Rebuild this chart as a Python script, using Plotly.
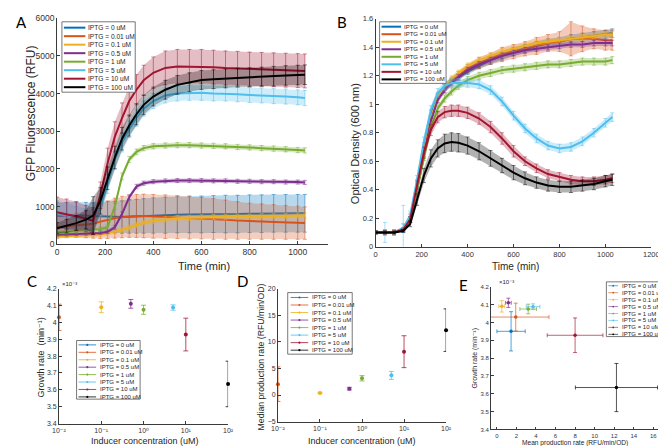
import plotly.graph_objects as go

W, H = 666, 446
FONT = "Liberation Sans, Arial, DejaVu Sans, sans-serif"

# ---------------- data ----------------
conc_labels = ["0", "0.01", "0.1", "0.5", "1", "5", "10", "100"]
conc = [0, 0.01, 0.1, 0.5, 1, 5, 10, 100]
colors = ["#0072BD", "#D95319", "#EDB120", "#7E2F8E", "#77AC30", "#4DBEEE", "#A2142F", "#000000"]
series_names = ["IPTG = %s uM" % c for c in conc_labels]

time_min = [0, 40, 80, 120, 150, 180, 210, 240, 270, 300, 330, 360, 400, 450, 500,
            550, 600, 650, 700, 750, 800, 850, 900, 950, 1000, 1030]

# Panel A: GFP fluorescence (RFU), mean and error
gfp_0 = [750, 760, 770, 760, 750, 740, 730, 720, 720, 730, 740, 750, 760, 770, 780, 790, 790, 800, 800, 800, 810, 810, 820, 820, 820, 820]
gfp_0_err = [350, 350, 350, 350, 350, 380, 400, 420, 430, 440, 450, 460, 470, 480, 480, 490, 490, 490, 500, 500, 500, 500, 500, 500, 500, 500]
gfp_001 = [450, 480, 500, 520, 540, 600, 650, 690, 720, 740, 750, 750, 740, 730, 720, 700, 690, 670, 650, 630, 610, 600, 590, 580, 570, 560]
gfp_001_err = [300, 300, 320, 350, 380, 450, 500, 530, 550, 560, 570, 580, 580, 580, 570, 560, 550, 540, 520, 500, 480, 470, 460, 450, 440, 430]
gfp_01 = [200, 210, 220, 230, 240, 260, 290, 330, 380, 440, 510, 570, 620, 660, 690, 700, 710, 720, 720, 730, 730, 740, 740, 750, 760, 760]
gfp_01_err = [40, 40, 40, 50, 50, 50, 60, 60, 60, 70, 70, 70, 70, 70, 70, 70, 70, 70, 70, 70, 70, 70, 70, 70, 70, 70]
gfp_05 = [250, 260, 270, 280, 290, 300, 330, 450, 800, 1250, 1530, 1620, 1660, 1680, 1690, 1690, 1690, 1680, 1680, 1670, 1670, 1660, 1660, 1650, 1650, 1640]
gfp_05_err = [40, 40, 40, 40, 40, 40, 50, 50, 60, 60, 60, 55, 55, 55, 55, 55, 55, 55, 55, 55, 55, 55, 55, 55, 55, 55]
gfp_1 = [300, 320, 340, 360, 380, 400, 450, 1000, 1800, 2250, 2450, 2550, 2600, 2620, 2630, 2630, 2620, 2610, 2600, 2580, 2570, 2550, 2540, 2520, 2500, 2490]
gfp_1_err = [50, 50, 50, 50, 50, 50, 60, 80, 90, 80, 75, 70, 70, 70, 70, 70, 70, 70, 70, 70, 70, 70, 70, 70, 70, 70]
gfp_5 = [800, 750, 700, 650, 650, 1000, 1600, 2250, 2700, 3050, 3350, 3600, 3800, 3950, 4000, 4020, 4020, 4000, 4000, 3980, 3960, 3950, 3930, 3920, 3900, 3880]
gfp_5_err = [350, 350, 300, 300, 300, 250, 250, 250, 250, 220, 220, 200, 200, 200, 200, 200, 200, 200, 200, 200, 200, 200, 200, 200, 200, 200]
gfp_10 = [850, 800, 750, 680, 620, 1300, 2150, 2850, 3350, 3800, 4100, 4350, 4550, 4680, 4720, 4720, 4720, 4700, 4680, 4670, 4650, 4640, 4630, 4620, 4610, 4600]
gfp_10_err = [400, 400, 380, 350, 350, 350, 400, 400, 400, 400, 400, 400, 420, 450, 450, 450, 450, 450, 450, 450, 450, 450, 450, 450, 450, 450]
gfp_100 = [420, 480, 560, 650, 760, 1150, 1750, 2300, 2800, 3150, 3450, 3700, 3920, 4100, 4230, 4300, 4360, 4380, 4400, 4420, 4430, 4450, 4460, 4480, 4490, 4500]
gfp_100_err = [150, 180, 200, 250, 500, 350, 300, 300, 300, 280, 280, 260, 250, 250, 250, 250, 250, 250, 250, 250, 250, 250, 260, 260, 260, 260]

# Panel B: optical density (600 nm), mean and error
od_0 = [0.1, 0.1, 0.1, 0.13, 0.2, 0.44, 0.7, 0.93, 1.06, 1.12, 1.16, 1.19, 1.23, 1.27, 1.31, 1.34, 1.37, 1.39, 1.41, 1.43, 1.44, 1.46, 1.47, 1.48, 1.49, 1.5]
od_0_err = [0.01, 0.02, 0.02, 0.03, 0.03, 0.03, 0.03, 0.03, 0.02, 0.02, 0.02, 0.02, 0.02, 0.02, 0.03, 0.03, 0.03, 0.03, 0.03, 0.03, 0.03, 0.03, 0.03, 0.03, 0.03, 0.03]
od_001 = [0.1, 0.1, 0.1, 0.12, 0.19, 0.41, 0.66, 0.89, 1.04, 1.11, 1.16, 1.2, 1.25, 1.29, 1.32, 1.35, 1.37, 1.39, 1.41, 1.43, 1.44, 1.46, 1.46, 1.46, 1.45, 1.45]
od_001_err = [0.01, 0.01, 0.01, 0.01, 0.02, 0.03, 0.03, 0.03, 0.03, 0.03, 0.03, 0.03, 0.03, 0.04, 0.04, 0.05, 0.05, 0.05, 0.06, 0.06, 0.07, 0.12, 0.09, 0.07, 0.07, 0.07]
od_01 = [0.1, 0.1, 0.1, 0.12, 0.19, 0.41, 0.67, 0.9, 1.05, 1.13, 1.18, 1.22, 1.27, 1.31, 1.34, 1.37, 1.39, 1.41, 1.43, 1.44, 1.45, 1.46, 1.47, 1.48, 1.49, 1.49]
od_01_err = [0.01, 0.01, 0.01, 0.01, 0.02, 0.02, 0.02, 0.02, 0.02, 0.02, 0.02, 0.02, 0.02, 0.02, 0.02, 0.02, 0.02, 0.02, 0.02, 0.02, 0.02, 0.02, 0.02, 0.02, 0.02, 0.02]
od_05 = [0.1, 0.1, 0.1, 0.12, 0.19, 0.4, 0.65, 0.88, 1.03, 1.1, 1.15, 1.19, 1.24, 1.28, 1.31, 1.34, 1.36, 1.38, 1.39, 1.4, 1.41, 1.42, 1.42, 1.43, 1.43, 1.43]
od_05_err = [0.01, 0.01, 0.01, 0.01, 0.02, 0.02, 0.02, 0.02, 0.02, 0.02, 0.02, 0.02, 0.02, 0.02, 0.02, 0.02, 0.02, 0.02, 0.02, 0.02, 0.02, 0.02, 0.02, 0.02, 0.02, 0.02]
od_1 = [0.1, 0.1, 0.1, 0.12, 0.19, 0.4, 0.63, 0.84, 0.97, 1.04, 1.09, 1.13, 1.17, 1.2, 1.22, 1.24, 1.25, 1.26, 1.27, 1.28, 1.28, 1.29, 1.3, 1.3, 1.3, 1.31]
od_1_err = [0.01, 0.01, 0.01, 0.01, 0.02, 0.02, 0.025, 0.025, 0.025, 0.025, 0.025, 0.025, 0.025, 0.025, 0.025, 0.025, 0.025, 0.025, 0.025, 0.025, 0.025, 0.025, 0.025, 0.025, 0.025, 0.025]
od_5 = [0.1, 0.1, 0.1, 0.13, 0.22, 0.47, 0.74, 0.96, 1.08, 1.13, 1.15, 1.15, 1.15, 1.14, 1.1, 1.02, 0.92, 0.83, 0.76, 0.71, 0.69, 0.7, 0.74, 0.8, 0.87, 0.91]
od_5_err = [0.01, 0.07, 0.02, 0.16, 0.03, 0.03, 0.03, 0.03, 0.03, 0.03, 0.03, 0.03, 0.03, 0.03, 0.03, 0.03, 0.03, 0.03, 0.03, 0.03, 0.03, 0.03, 0.03, 0.03, 0.03, 0.03]
od_10 = [0.1, 0.1, 0.1, 0.12, 0.19, 0.43, 0.66, 0.82, 0.91, 0.945, 0.955, 0.955, 0.94, 0.9, 0.84, 0.76, 0.67, 0.6, 0.55, 0.51, 0.49, 0.47, 0.46, 0.46, 0.47, 0.48]
od_10_err = [0.01, 0.01, 0.01, 0.01, 0.02, 0.03, 0.04, 0.04, 0.04, 0.04, 0.04, 0.04, 0.04, 0.04, 0.04, 0.04, 0.04, 0.03, 0.03, 0.03, 0.03, 0.03, 0.03, 0.03, 0.03, 0.03]
od_100 = [0.1, 0.1, 0.1, 0.11, 0.16, 0.33, 0.5, 0.62, 0.69, 0.725, 0.735, 0.73, 0.71, 0.67, 0.62, 0.57, 0.52, 0.48, 0.45, 0.43, 0.42, 0.42, 0.43, 0.44, 0.46, 0.47]
od_100_err = [0.01, 0.01, 0.01, 0.01, 0.02, 0.04, 0.05, 0.06, 0.06, 0.065, 0.065, 0.065, 0.06, 0.06, 0.055, 0.05, 0.05, 0.045, 0.04, 0.04, 0.04, 0.04, 0.04, 0.04, 0.04, 0.04]

# Panels C-E: growth rate (x1e-3 min^-1) and production rates (RFU/min/OD)
growth = [3.95, 4.03, 4.09, 4.11, 4.075, 4.088, 3.928, 3.635]
growth_err = [0.11, 0.078, 0.032, 0.026, 0.027, 0.016, 0.097, 0.135]
prod_median = [None, 2.05, 0.4, 1.2, 3.15, 3.7, 8.15, 12.2]
prod_median_err = [None, 3.25, 0.12, 0.25, 0.5, 0.75, 3.0, 4.0]
prod_mean = [1.45, 1.93, 0.5, 1.17, 3.2, 3.7, 8.0, 12.23]
prod_mean_err = [1.45, 3.4, 0.3, 0.3, 0.85, 0.7, 2.85, 4.2]

log_tick_vals = [0.01, 0.1, 1, 10, 100]
log_tick_text = ["10\u207b\u00b2", "10\u207b\u00b9", "10\u2070", "10\u00b9", "10\u00b2"]

gfp_means = [gfp_0, gfp_001, gfp_01, gfp_05, gfp_1, gfp_5, gfp_10, gfp_100]
gfp_errs = [gfp_0_err, gfp_001_err, gfp_01_err, gfp_05_err, gfp_1_err, gfp_5_err, gfp_10_err, gfp_100_err]
od_means = [od_0, od_001, od_01, od_05, od_1, od_5, od_10, od_100]
od_errs = [od_0_err, od_001_err, od_01_err, od_05_err, od_1_err, od_5_err, od_10_err, od_100_err]

# ---------------- helpers ----------------
def px(p):
    return p / W

def py(p):
    return 1 - p / H

def rgba(hexc, a):
    h = hexc.lstrip("#")
    return "rgba(%d,%d,%d,%.2f)" % (int(h[0:2], 16), int(h[2:4], 16), int(h[4:6], 16), a)

fig = go.Figure()

def add_timeseries(means, errs, xa, ya, band_a, lw, band_from):
    for m, e, c in zip(means, errs, colors):
        tt = time_min[band_from:]
        up = [a + b for a, b in zip(m[band_from:], e[band_from:])]
        lo = [a - b for a, b in zip(m[band_from:], e[band_from:])]
        fig.add_trace(go.Scatter(x=tt + tt[::-1], y=up + lo[::-1], fill="toself",
                                 fillcolor=rgba(c, band_a), line=dict(width=0), mode="lines",
                                 hoverinfo="skip", showlegend=False, xaxis=xa, yaxis=ya))
        fig.add_trace(go.Scatter(x=time_min, y=m, mode="lines", line=dict(color=c, width=lw),
                                 error_y=dict(type="data", array=e, color=rgba(c, 0.7), thickness=0.7, width=2),
                                 showlegend=False, xaxis=xa, yaxis=ya))

add_timeseries(gfp_means, gfp_errs, "x", "y", 0.28, 2, 0)
add_timeseries(od_means, od_errs, "x2", "y2", 0.3, 2, 4)

# C: growth vs concentration
for i in range(len(conc)):
    if conc[i] > 0:
        fig.add_trace(go.Scatter(x=[conc[i]], y=[growth[i]], mode="markers", cliponaxis=False,
                                 marker=dict(color=colors[i], size=4),
                                 error_y=dict(type="data", array=[growth_err[i]], color=rgba(colors[i], 0.75), thickness=1, width=2.5),
                                 showlegend=False, xaxis="x3", yaxis="y3"))
# D: median production vs concentration
for i in range(len(conc)):
    if conc[i] > 0 and prod_median[i] is not None:
        fig.add_trace(go.Scatter(x=[conc[i]], y=[prod_median[i]], mode="markers", cliponaxis=False,
                                 marker=dict(color=colors[i], size=4),
                                 error_y=dict(type="data", array=[prod_median_err[i]], color=rgba(colors[i], 0.75), thickness=1, width=2.5),
                                 showlegend=False, xaxis="x4", yaxis="y4"))
# E: growth vs mean production
for i in range(len(conc)):
    fig.add_trace(go.Scatter(x=[prod_mean[i]], y=[growth[i]], mode="markers", cliponaxis=False,
                             marker=dict(color=colors[i], size=3.5),
                             error_x=dict(type="data", array=[prod_mean_err[i]], color=rgba(colors[i], 0.75), thickness=0.9, width=2),
                             error_y=dict(type="data", array=[growth_err[i]], color=rgba(colors[i], 0.75), thickness=0.9, width=2),
                             showlegend=False, xaxis="x5", yaxis="y5"))

# ---------------- axes ----------------
AXC = "#3a3a3a"

def ax(size, **kw):
    d = dict(showline=True, linecolor=AXC, linewidth=0.8, ticks="inside", ticklen=3, tickwidth=0.8,
             tickcolor=AXC, showgrid=False, zeroline=False, mirror=False,
             tickfont=dict(size=size, color="#333333", family=FONT))
    d.update(kw)
    return d

fig.update_layout(
    xaxis=ax(8.5, domain=[px(43), px(320)], range=[0, 1125], tickvals=[0, 200, 400, 600, 800, 1000], anchor="y"),
    yaxis=ax(8.5, domain=[py(236.5), py(5.3)], range=[0, 6000], dtick=1000, anchor="x"),
    xaxis2=ax(7.5, domain=[px(369), px(651)], range=[0, 1200], dtick=200, anchor="y2"),
    yaxis2=ax(7.5, domain=[py(239), py(6)], range=[0, 1.6], dtick=0.2, anchor="x2"),
    xaxis3=ax(7, type="log", domain=[px(45), px(218)], range=[-2, 2], tickvals=log_tick_vals, ticktext=log_tick_text, anchor="y3"),
    yaxis3=ax(7, domain=[py(420), py(282)], range=[3.4, 4.2], dtick=0.1, anchor="x3"),
    xaxis4=ax(7, type="log", domain=[px(269), px(441)], range=[-2, 2], tickvals=log_tick_vals, ticktext=log_tick_text, anchor="y4"),
    yaxis4=ax(7, domain=[py(418), py(282)], range=[-5, 20], dtick=5, anchor="x4"),
    xaxis5=ax(6, domain=[px(487), px(658)], range=[-0.6, 16.5], dtick=2, anchor="y5"),
    yaxis5=ax(6, domain=[py(426), py(280)], range=[3.4, 4.2], dtick=0.1, anchor="x5"),
)

shapes = []
annotations = []

def text(t, x, y, size, angle=0, xanchor="center", yanchor="middle", family=FONT, color="#262626"):
    annotations.append(dict(text=t, x=px(x), y=py(y), xref="paper", yref="paper", showarrow=False,
                            textangle=angle, xanchor=xanchor, yanchor=yanchor,
                            font=dict(size=size, family=family, color=color)))

def legend(box, first_y, step, sx0, sx1, tx, fsize, marker, lw, msize):
    x0, y0, x1, y1 = box
    shapes.append(dict(type="rect", xref="paper", yref="paper", x0=px(x0), x1=px(x1), y0=py(y1), y1=py(y0),
                       line=dict(color="#555555", width=0.8), fillcolor="white", layer="above"))
    for i, (lab, c) in enumerate(zip(series_names, colors)):
        yy = first_y + i * step
        shapes.append(dict(type="line", xref="paper", yref="paper", x0=px(sx0), x1=px(sx1), y0=py(yy), y1=py(yy),
                           line=dict(color=c, width=lw), layer="above"))
        if marker:
            cx = (sx0 + sx1) / 2
            shapes.append(dict(type="circle", xref="paper", yref="paper", x0=px(cx - msize), x1=px(cx + msize),
                               y0=py(yy + msize), y1=py(yy - msize), fillcolor=c, line=dict(width=0), layer="above"))
        text(lab, tx, yy, fsize, xanchor="left")

legend((48, 9, 123, 81), 15, 8.7, 50, 72, 73, 6.6, False, 2, 0)
legend((373, 9, 441, 72), 14, 7.7, 375, 395, 396, 6, False, 2, 0)
legend((63, 335, 128, 395), 339.5, 7.6, 65, 83, 85, 6, True, 0.8, 1.1)
legend((279, 286, 345, 349), 291, 7.7, 282, 300, 302, 6, True, 0.8, 1.1)
legend((605, 275, 662, 331), 279, 7.1, 607, 617, 619, 6, True, 0.6, 0.9)

# axis titles
text("GFP Fluorescence (RFU)", 16, 103, 12, angle=-90)
text("Time (min)", 193, 259, 11)
text("Optical Density (600 nm)", 348, 134, 11, angle=-90)
text("Time (min)", 512, 259, 10)
text("Growth rate  (min\u207b\u00b9)", 27, 352, 9, angle=-90)
text("Inducer concentration (uM)", 133, 438, 9)
text("Median production rate (RFU/min/OD)", 252, 352, 8.7, angle=-90)
text("Inducer concentration (uM)", 355, 438, 9)
text("Growth rate (min\u207b\u00b9)", 471, 353, 7, angle=-90)
text("Mean production rate (RFU/min/OD)", 573, 440, 6.6)
text("\u00d710\u207b\u00b3", 46, 277, 6, xanchor="left")
text("\u00d710\u207b\u00b3", 493, 275, 6, xanchor="left")

# panel letters
LF = "Lato, Open Sans, sans-serif"
text("A", 7, 9, 15, family=LF, color="#000")
text("B", 335, 9, 15, family=LF, color="#000")
text("C", 17, 274, 15, family=LF, color="#000")
text("D", 233, 274, 15, family=LF, color="#000")
text("E", 459, 278, 15, family=LF, color="#000")

fig.update_layout(width=W, height=H, margin=dict(l=0, r=0, t=0, b=0), autosize=False,
                  paper_bgcolor="white", plot_bgcolor="white", showlegend=False,
                  shapes=shapes, annotations=annotations, font=dict(family=FONT))

fig.write_html("out.html")
